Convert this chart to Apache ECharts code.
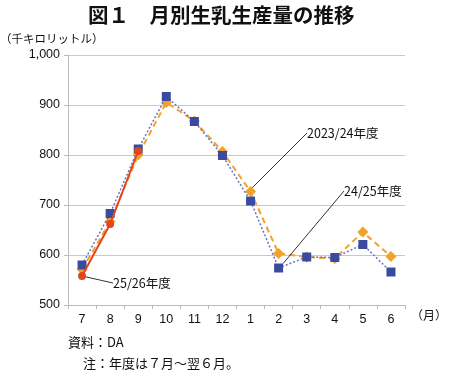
<!DOCTYPE html>
<html><head><meta charset="utf-8">
<script src="https://cdn.jsdelivr.net/npm/echarts@6/dist/echarts.min.js"></script>
<style>html,body{margin:0;padding:0;background:#fff}#c{width:450px;height:373px}</style>
</head><body><div id="c"></div>
<script>
const months = ['7','8','9','10','11','12','1','2','3','4','5','6'];
const fy2023 = [571, 667, 800, 905, 868, 807, 727, 603, 596, 593, 646, 597];
const fy2024 = [580, 683, 812, 917, 867, 799, 708, 574, 596, 595, 621, 566];
const fy2025 = [558, 662, 808];
const yTicks = [500, 600, 700, 800, 900, 1000];

const FONT = '"Noto Sans CJK JP", "Liberation Sans", sans-serif';
const chart = echarts.init(document.getElementById('c'), null, {renderer: 'canvas'});

function labeled(arr, idx, text) {
  return arr.map((v, i) => i === idx ? {
    value: v,
    label: {show: true, formatter: text}
  } : v);
}

const labelStyle = {fontFamily: FONT, fontSize: 12.5, color: '#111'};

chart.setOption({
  animation: false,
  backgroundColor: '#fff',
  grid: {left: 68, right: 34, top: 55, bottom: 68},
  xAxis: {
    type: 'category', data: months, boundaryGap: true,
    axisLine: {lineStyle: {color: '#bbb'}},
    axisTick: {show: true, length: 4, lineStyle: {color: '#bbb'}},
    axisLabel: {color: '#111', fontFamily: '"Liberation Sans", Arial, sans-serif', fontSize: 12.5, margin: 8},
    name: '（月）', nameLocation: 'end', nameGap: 6,
    nameTextStyle: {color: '#111', fontFamily: FONT, fontSize: 12, padding: [0,0,0,0], verticalAlign: 'top', lineHeight: 20}
  },
  yAxis: {
    type: 'value', min: yTicks[0], max: yTicks[yTicks.length-1], interval: 100,
    axisLine: {show: true, lineStyle: {color: '#bbb'}},
    axisTick: {show: true, length: 4, lineStyle: {color: '#bbb'}},
    splitLine: {lineStyle: {color: '#c8c8c8', width: 1}},
    axisLabel: {color: '#111', fontFamily: '"Liberation Sans", Arial, sans-serif', fontSize: 12.5, margin: 8,
      formatter: v => v.toLocaleString('en-US')}
  },
  series: [
    {
      name: '2023/24年度', type: 'line', z: 2,
      data: labeled(fy2023, 6, '2023/24年度'),
      symbol: 'diamond', symbolSize: 11,
      itemStyle: {color: '#F2A22A'},
      lineStyle: {color: '#F2A22A', width: 2, type: [6, 4]},
      label: labelStyle,
      labelLine: {show: true, lineStyle: {color: '#333', width: 1}, length2: 0},
      labelLayout: p => p.dataIndex === 6 ? {x: 307, y: 133, align: 'left', verticalAlign: 'middle'} : {}
    },
    {
      name: '24/25年度', type: 'line', z: 3,
      data: labeled(fy2024, 7, '24/25年度'),
      symbol: 'rect', symbolSize: 9,
      itemStyle: {color: '#3A4A9E'},
      lineStyle: {color: '#6675BF', width: 1.5, type: [2, 2]},
      label: labelStyle,
      labelLine: {show: true, lineStyle: {color: '#333', width: 1}},
      labelLayout: p => p.dataIndex === 7 ? {x: 344, y: 191, align: 'left', verticalAlign: 'middle'} : {}
    },
    {
      name: '25/26年度', type: 'line', z: 4,
      data: labeled(fy2025, 0, '25/26年度'),
      symbol: 'circle', symbolSize: 8,
      itemStyle: {color: '#E2461E'},
      lineStyle: {color: '#E2461E', width: 2},
      label: labelStyle,
      labelLine: {show: true, lineStyle: {color: '#333', width: 1}},
      labelLayout: p => p.dataIndex === 0 ? {x: 113, y: 283, align: 'left', verticalAlign: 'middle'} : {}
    }
  ],
  graphic: [
    {type: 'text', left: 88, top: 5, style: {text: '図１　月別生乳生産量の推移', font: 'bold 20.5px ' + FONT, fill: '#111'}},
    {type: 'text', left: 0, top: 33, style: {text: '（千キロリットル）', font: '11.5px ' + FONT, fill: '#111'}},
    {type: 'text', left: 68, top: 336, style: {text: '資料：DA', font: '13px ' + FONT, fill: '#111'}},
    {type: 'text', left: 83, top: 357, style: {text: '注：年度は７月～翌６月。', font: '13px ' + FONT, fill: '#111'}}
  ]
});
</script></body></html>
